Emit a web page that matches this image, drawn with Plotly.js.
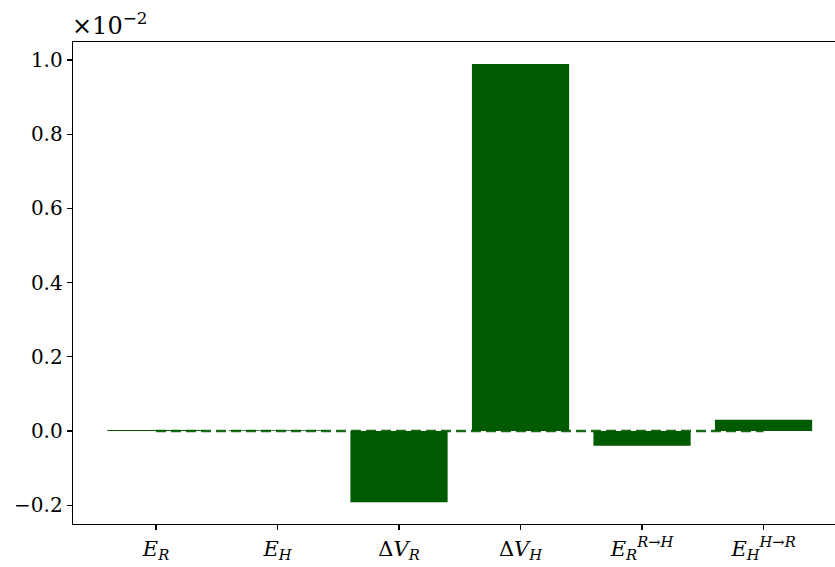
<!DOCTYPE html>
<html>
<head>
<meta charset="utf-8">
<script src="https://cdn.plot.ly/plotly-3.0.1.min.js"></script>
<style>html,body{margin:0;padding:0;overflow:hidden;background:#fff;}</style>
</head>
<body>
<div id="chart" style="width:835px;height:567px;"></div>
<script>
const categories = [
  '<i>E</i><sub><i>R</i></sub>',
  '<i>E</i><sub><i>H</i></sub>',
  'Δ<i>V</i><sub><i>R</i></sub>',
  'Δ<i>V</i><sub><i>H</i></sub>',
  '<i>E</i><sub><i>R</i></sub><sup><i>R</i>→<i>H</i></sup>',
  '<i>E</i><sub><i>H</i></sub><sup><i>H</i>→<i>R</i></sup>'
];
const values = [0.003, 0.002, -0.192, 0.989, -0.040, 0.030]; // ×10^-2
const yTicks = [-0.2, 0.0, 0.2, 0.4, 0.6, 0.8, 1.0];
const xIdx = categories.map((_, i) => i);
const green = '#005a00';
const font = 'DejaVu Serif, serif';

const traces = [
  {
    type: 'bar', x: xIdx, y: values, width: 0.8,
    marker: {color: green, line: {width: 0}},
    hoverinfo: 'skip'
  },
  {
    type: 'scatter', mode: 'lines', x: [xIdx[0], xIdx[xIdx.length - 1]], y: [0, 0],
    line: {color: green, width: 2.5, dash: '10px,5px'},
    opacity: 0.9,
    hoverinfo: 'skip'
  }
];

const layout = {
  width: 835, height: 567,
  margin: {l: 73, r: 0, t: 42, b: 43},
  paper_bgcolor: '#fff', plot_bgcolor: '#fff',
  showlegend: false,
  font: {family: font, size: 20, color: '#000'},
  xaxis: {
    range: [-0.683, 5.588],
    tickvals: xIdx, ticktext: categories,
    ticks: 'outside', ticklen: 5, tickwidth: 1.2, tickcolor: '#000',
    showline: true, linecolor: '#000', linewidth: 1.3, mirror: true,
    showgrid: false, zeroline: false,
    tickfont: {family: font, size: 21}
  },
  yaxis: {
    range: [-0.2507, 1.0485],
    tickvals: yTicks, ticktext: yTicks.map(v => (v < 0 ? '\u2212' : '') + Math.abs(v).toFixed(1)),
    ticks: 'outside', ticklen: 5, tickwidth: 1.2, tickcolor: '#000',
    showline: true, linecolor: '#000', linewidth: 1.3,
    showgrid: false, zeroline: false,
    tickfont: {family: font, size: 20}
  },
  annotations: [{
    text: '×10<sup>−2</sup>', xref: 'paper', yref: 'paper', x: 0, y: 1,
    xanchor: 'left', yanchor: 'bottom', showarrow: false,
    font: {family: font, size: 24}, yshift: 0, xshift: -3
  }]
};

Plotly.newPlot('chart', traces, layout, {staticPlot: true, displayModeBar: false});
</script>
</body>
</html>
